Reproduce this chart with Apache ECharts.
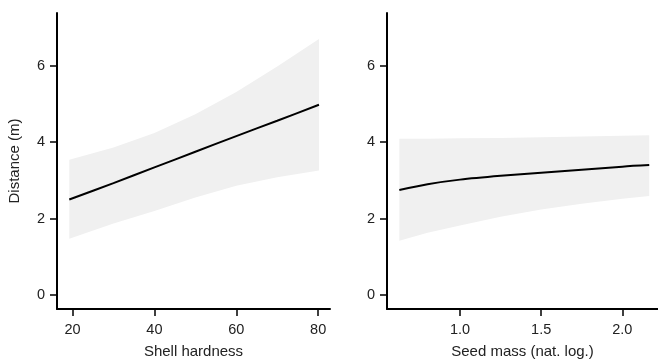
<!DOCTYPE html>
<html>
<head>
<meta charset="utf-8">
<script src="https://cdn.jsdelivr.net/npm/echarts@6/dist/echarts.min.js"></script>
<style>
  html, body { margin: 0; padding: 0; background: #fff; }
  #chart { width: 658px; height: 364px; }
</style>
</head>
<body>
<div id="chart"></div>
<script>
// left panel: shell hardness
var shellX = [19.2, 30, 40, 50, 60, 70, 80.2];
var shellFit = [2.5, 2.93, 3.34, 3.75, 4.16, 4.56, 4.98];
var shellLow = [1.47, 1.87, 2.2, 2.55, 2.86, 3.08, 3.26];
var shellHigh = [3.54, 3.86, 4.24, 4.73, 5.31, 5.98, 6.7];

// right panel: seed mass
var seedX = [0.626, 0.8, 1.0, 1.25, 1.5, 1.75, 2.0, 2.166];
var seedFit = [2.75, 2.9, 3.02, 3.12, 3.2, 3.28, 3.36, 3.4];
var seedLow = [1.42, 1.63, 1.82, 2.05, 2.24, 2.39, 2.52, 2.59];
var seedHigh = [4.09, 4.09, 4.1, 4.11, 4.13, 4.15, 4.17, 4.18];

var yTicks = [0, 2, 4, 6];
var shellTicks = [20, 40, 60, 80];
var seedTicks = [1.0, 1.5, 2.0];

var pairs = (xs, ys) => xs.map((x, i) => [x, ys[i]]);

var font = 'Liberation Sans, Arial, sans-serif';

function xAxisFor(idx, min, max, ticks, name, fmt) {
  return {
    type: 'value', gridIndex: idx, min: min, max: max,
    name: name, nameLocation: 'middle', nameGap: 35,
    nameTextStyle: { color: '#222', fontSize: 15, fontFamily: font },
    axisLine: { show: true, onZero: false, lineStyle: { color: '#000', width: 2 } },
    axisTick: { show: true, length: 7, customValues: ticks, lineStyle: { color: '#000', width: 1.5 } },
    axisLabel: { customValues: ticks, color: '#222', fontSize: 14.5, fontFamily: font, margin: 13, formatter: fmt },
    splitLine: { show: false }
  };
}

function yAxisFor(idx, name) {
  return {
    type: 'value', gridIndex: idx, min: -0.365, max: 7.38,
    name: name, nameLocation: 'middle', nameGap: 35,
    nameTextStyle: { color: '#222', fontSize: 15, fontFamily: font },
    axisLine: { show: true, onZero: false, lineStyle: { color: '#000', width: 2 } },
    axisTick: { show: true, length: 7, customValues: yTicks, lineStyle: { color: '#000', width: 1.5 } },
    axisLabel: { customValues: yTicks, color: '#222', fontSize: 14.5, fontFamily: font, margin: 12 },
    splitLine: { show: false }
  };
}

// confidence band drawn as one polygon: lower edge forward, upper edge back
function bandSeries(idx, xs, lo, hi) {
  var rows = xs.map((x, i) => [x, lo[i], hi[i]]);
  return {
    type: 'custom', xAxisIndex: idx, yAxisIndex: idx, silent: true,
    data: rows,
    encode: { x: 0, y: [1, 2] },
    renderItem: function (params, api) {
      if (params.dataIndex !== 0) return;
      var pts = [];
      rows.forEach(r => pts.push(api.coord([r[0], r[1]])));
      rows.slice().reverse().forEach(r => pts.push(api.coord([r[0], r[2]])));
      return {
        type: 'polygon',
        shape: { points: pts },
        style: { fill: '#f0f0f0' }
      };
    },
    z: 1
  };
}

function fitSeries(idx, xs, ys) {
  return {
    type: 'line', xAxisIndex: idx, yAxisIndex: idx,
    data: pairs(xs, ys), symbol: 'none', smooth: 0.3,
    lineStyle: { color: '#000', width: 2 }, z: 5
  };
}

var chart = echarts.init(document.getElementById('chart'));
chart.setOption({
  animation: false,
  grid: [
    { left: 57, top: 13, width: 273, height: 297 },
    { left: 387, top: 13, width: 271, height: 297 }
  ],
  xAxis: [
    xAxisFor(0, 16.2, 82.9, shellTicks, 'Shell hardness', v => String(v)),
    xAxisFor(1, 0.55, 2.22, seedTicks, 'Seed mass (nat. log.)', v => v.toFixed(1))
  ],
  yAxis: [
    yAxisFor(0, 'Distance (m)'),
    yAxisFor(1, '')
  ],
  series: [
    bandSeries(0, shellX, shellLow, shellHigh),
    fitSeries(0, shellX, shellFit),
    bandSeries(1, seedX, seedLow, seedHigh),
    fitSeries(1, seedX, seedFit)
  ]
});
window.addEventListener('resize', function () {
  chart.resize();
});
</script>
</body>
</html>
